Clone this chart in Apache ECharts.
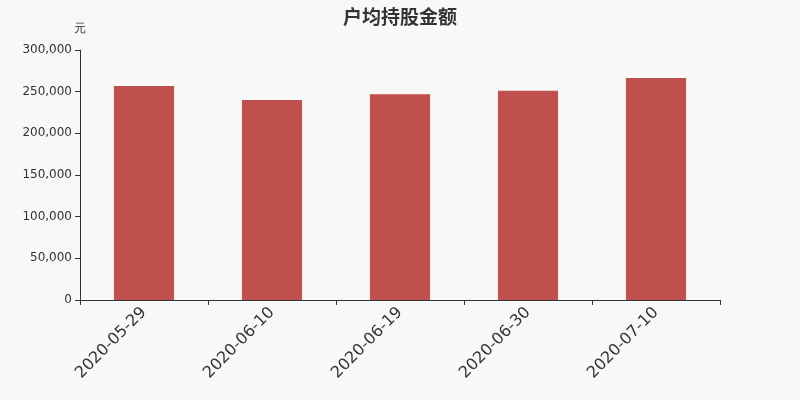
<!DOCTYPE html>
<html><head><meta charset="utf-8">
<script src="https://cdn.jsdelivr.net/npm/echarts@6/dist/echarts.min.js"></script>
<style>html,body{margin:0;padding:0;background:#f8f8f8;}#c{width:800px;height:400px;}</style>
</head><body><div id="c"></div>
<script>
const categories = ['2020-05-29','2020-06-10','2020-06-19','2020-06-30','2020-07-10'];
const values = [256800, 240000, 246800, 251200, 266400];
const chart = echarts.init(document.getElementById('c'));
chart.setOption({
  backgroundColor: '#f8f8f8',
  title: { text: '户均持股金额', left: 'center', top: 2, textStyle: { fontSize: 19, fontWeight: 'bold', color: '#333', fontFamily: 'Noto Sans CJK SC' } },
  grid: { left: 80, right: 80, top: 50, bottom: 100 },
  xAxis: {
    type: 'category', data: categories,
    axisLine: { lineStyle: { color: '#333' } },
    axisTick: { show: true, alignWithLabel: false, lineStyle: { color: '#333' } },
    axisLabel: { rotate: 45, fontSize: 16, color: '#333', margin: 10, fontFamily: 'DejaVu Sans' }
  },
  yAxis: {
    type: 'value', min: 0, max: 300000, interval: 50000, name: '元',
    nameTextStyle: { color: '#333', fontSize: 12 },
    nameGap: 15,
    axisLine: { show: true, lineStyle: { color: '#333' } },
    axisTick: { show: true, lineStyle: { color: '#333' } },
    splitLine: { show: false },
    axisLabel: { color: '#333', fontSize: 12, fontFamily: 'DejaVu Sans', formatter: v => v.toLocaleString('en-US') }
  },
  series: [{ type: 'bar', data: values, barWidth: '47%', itemStyle: { color: '#c0504d' } }]
});
</script></body></html>
